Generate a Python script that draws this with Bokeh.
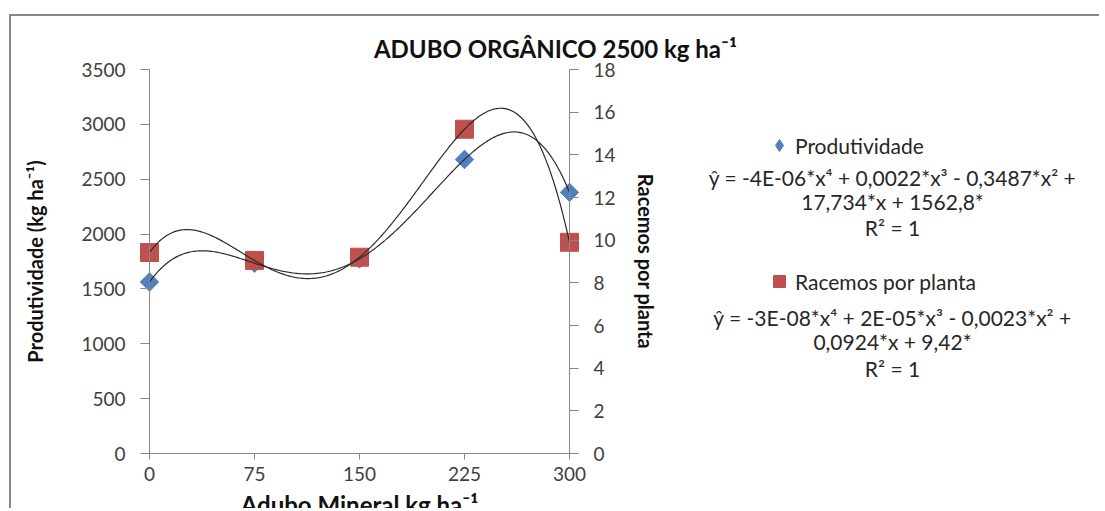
import numpy as np
from bokeh.plotting import figure
from bokeh.models import Range1d, LinearAxis, FixedTicker, Label, Legend, LegendItem
from bokeh.embed import file_html
from bokeh.resources import INLINE

# ---- data ----
adubo_mineral = [0, 75, 150, 225, 300]
produtividade = [1563, 1735, 1775, 2680, 2380]
racemos = [9.42, 9.05, 9.2, 15.2, 9.9]
x_ticks = [0, 75, 150, 225, 300]
left_ticks = [0, 500, 1000, 1500, 2000, 2500, 3000, 3500]
right_ticks = [0, 2, 4, 6, 8, 10, 12, 14, 16, 18]

series_names = ["Produtividade", "Racemos por planta"]
title_txt = "ADUBO ORGÂNICO 2500 kg ha⁻¹"
xlabel_txt = "Adubo Mineral kg ha⁻¹"
ylabel_txt = "Produtividade (kg ha⁻¹)"
y2label_txt = "Racemos por planta"
eq1_lines = ["ŷ = -4E-06*x⁴ + 0,0022*x³ - 0,3487*x² +", "17,734*x + 1562,8*", "R² = 1"]
eq2_lines = ["ŷ = -3E-08*x⁴ + 2E-05*x³ - 0,0023*x² +", "0,0924*x + 9,42*", "R² = 1"]

FONT = "Lato"
AX = "#868686"
TXT = "#404040"
BLUE = "#4F81BD"
RED = "#C0504D"

# ---- geometry (canvas pixels) ----
W, H = 1090, 494
X0, X1 = 138, 558      # canvas x of data 0 and 300
Y0, Y1 = 437, 53       # canvas y of left-axis 0 and 3500
kx = 300 / (X1 - X0)
ky = 3500 / (Y0 - Y1)
ky2 = 18 / (Y0 - Y1)

def dx(cx):
    return (cx - X0) * kx

def dy(cy):
    return (Y0 - cy) * ky

p = figure(width=W, height=H, output_backend="svg", toolbar_location=None,
           x_range=Range1d(dx(0), dx(W)), y_range=Range1d(dy(H), dy(0)),
           x_axis_location=None, y_axis_location=None,
           min_border_left=0, min_border_right=0, min_border_top=0, min_border_bottom=0)
p.styles = {"margin-left": "9px", "margin-top": "14px",
            "border-left": "2px solid #888888", "border-top": "2px solid #888888"}
p.grid.visible = False
p.outline_line_color = None
p.background_fill_color = "white"
p.border_fill_color = "white"
p.extra_y_ranges = {"right": Range1d((Y0 - H) * ky2, Y0 * ky2)}

def style_axis(ax, tick_out, standoff):
    ax.axis_line_color = AX
    ax.major_tick_line_color = AX
    ax.major_tick_out = tick_out
    ax.major_tick_in = 0
    ax.minor_tick_line_color = None
    ax.major_label_text_font = FONT
    ax.major_label_text_font_size = "19px"
    ax.major_label_text_color = TXT
    ax.major_label_standoff = standoff
    ax.axis_label_text_font = FONT
    ax.axis_label_text_font_style = "bold"
    ax.axis_label_text_color = "#111111"

xa = LinearAxis(ticker=FixedTicker(ticks=x_ticks), bounds=(0, 300), fixed_location=0,
                axis_label=xlabel_txt)
style_axis(xa, 6, 7)
xa.axis_label_text_font_size = "24px"
xa.axis_label_standoff = 6
p.add_layout(xa, "below")

ya = LinearAxis(ticker=FixedTicker(ticks=left_ticks), bounds=(0, 3500), fixed_location=0,
                axis_label=ylabel_txt)
style_axis(ya, 9, 15)
ya.axis_label_text_font_size = "20px"
ya.axis_label_standoff = 31
p.add_layout(ya, "left")

ya2 = LinearAxis(y_range_name="right", ticker=FixedTicker(ticks=right_ticks), bounds=(0, 18),
                 fixed_location=300, axis_label=y2label_txt)
style_axis(ya2, 9, 15)
ya2.axis_label_text_font_size = "20px"
ya2.axis_label_standoff = 15
p.add_layout(ya2, "right")

# Produtividade: a diamond glyph (used for the legend swatch) under a 45-degree square
r1 = p.scatter(adubo_mineral, produtividade, marker="diamond", size=18,
               fill_color=BLUE, line_color=BLUE)
p.scatter(adubo_mineral, produtividade, marker="square", size=13, angle=np.pi / 4,
          fill_color=BLUE, line_color=BLUE)
r2 = p.scatter(adubo_mineral, racemos, marker="square", size=18,
               fill_color=RED, line_color=RED, y_range_name="right")

xs = np.linspace(0, 300, 301)
c1 = np.polyfit(adubo_mineral, produtividade, 4)
c2 = np.polyfit(adubo_mineral, racemos, 4)
p.line(xs, np.polyval(c1, xs), line_color="#2b2b2b", line_width=1.2)
p.line(xs, np.polyval(c2, xs), line_color="#2b2b2b", line_width=1.2, y_range_name="right")

GL = 30
legend = Legend(items=[LegendItem(label=series_names[0], renderers=[r1]),
                       LegendItem(label=series_names[1], renderers=[r2])],
                location=(768 - GL // 2, H - (265 + GL // 2)), spacing=136 - GL,
                glyph_width=GL, glyph_height=GL,
                label_standoff=1, padding=0, margin=0, border_line_color=None,
                background_fill_alpha=0, label_text_font=FONT, label_text_font_size="21px",
                label_text_color="#262626", label_height=GL)
p.add_layout(legend)

p.add_layout(Label(x=dx(544), y=dy(32), text=title_txt, text_align="center", text_baseline="middle",
                   text_font=FONT, text_font_style="bold", text_font_size="24px", text_color="#111111"))
for line, cy in zip(eq1_lines + eq2_lines, [161, 185, 211, 301, 325, 352]):
    p.add_layout(Label(x=dx(881), y=dy(cy), text=line, text_align="center", text_baseline="middle",
                       text_font=FONT, text_font_size="21px", text_color="#262626"))

open("out.html", "w").write(file_html(p, INLINE))
